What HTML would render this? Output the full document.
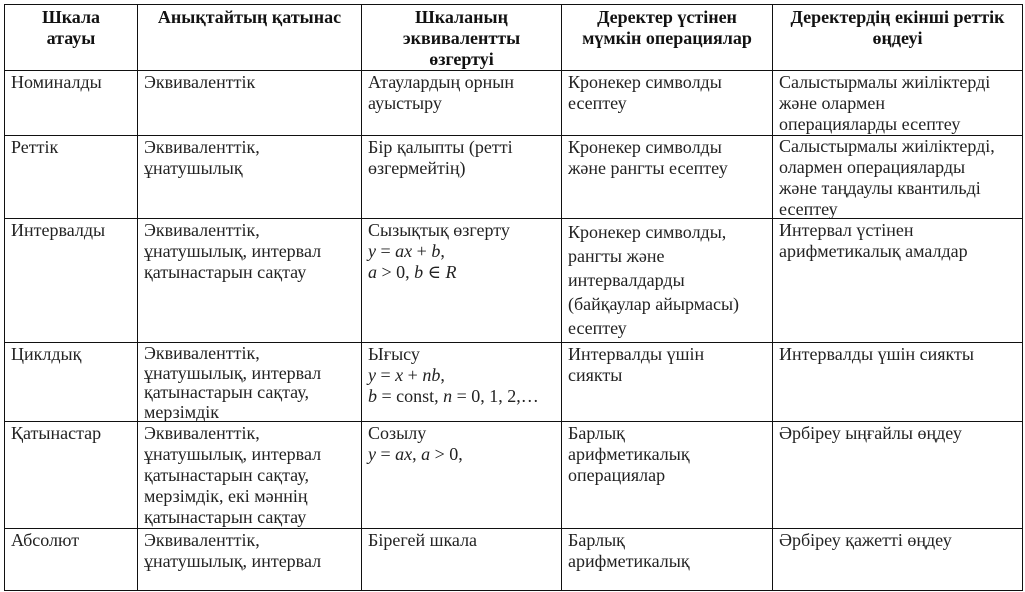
<!DOCTYPE html>
<html><head><meta charset="utf-8">
<style>
html,body{margin:0;padding:0;background:#fff;}
#w{position:relative;width:1025px;height:592px;overflow:hidden;font-family:"Liberation Serif","DejaVu Serif",serif;font-size:18px;line-height:21px;color:#222;}
.c{position:absolute;box-sizing:border-box;border:1px solid #111;padding:1px 6px 0;overflow:hidden;}
.h{font-weight:bold;text-align:center;color:#111;padding-top:2px;}
i{font-style:italic;}
</style></head><body><div id="w">
<div class="c h" style="left:4px;top:4px;width:134px;height:67px;">Шкала<br>атауы</div>
<div class="c h" style="left:137px;top:4px;width:225px;height:67px;">Анықтайтың қатынас</div>
<div class="c h" style="left:361px;top:4px;width:201px;height:67px;">Шкаланың<br>эквивалентты<br>өзгертуі</div>
<div class="c h" style="left:561px;top:4px;width:212px;height:67px;">Деректер үстінен<br>мүмкін операциялар</div>
<div class="c h" style="left:772px;top:4px;width:251px;height:67px;">Деректердің екінші реттік<br>өңдеуі</div>

<div class="c" style="left:4px;top:70px;width:134px;height:66px;">Номиналды</div>
<div class="c" style="left:137px;top:70px;width:225px;height:66px;">Эквиваленттік</div>
<div class="c" style="left:361px;top:70px;width:201px;height:66px;">Атаулардың орнын<br>ауыстыру</div>
<div class="c" style="left:561px;top:70px;width:212px;height:66px;">Кронекер символды<br>есептеу</div>
<div class="c" style="left:772px;top:70px;width:251px;height:66px;">Салыстырмалы жиіліктерді<br>және олармен<br>операцияларды есептеу</div>

<div class="c" style="left:4px;top:135px;width:134px;height:84px;">Реттік</div>
<div class="c" style="left:137px;top:135px;width:225px;height:84px;">Эквиваленттік,<br>ұнатушылық</div>
<div class="c" style="left:361px;top:135px;width:201px;height:84px;">Бір қалыпты (ретті<br>өзгермейтің)</div>
<div class="c" style="left:561px;top:135px;width:212px;height:84px;">Кронекер символды<br>және рангты есептеу</div>
<div class="c" style="left:772px;top:135px;width:251px;height:84px;padding-top:0;">Салыстырмалы жиіліктерді,<br>олармен операцияларды<br>және таңдаулы квантильді<br>есептеу</div>

<div class="c" style="left:4px;top:218px;width:134px;height:125px;">Интервалды</div>
<div class="c" style="left:137px;top:218px;width:225px;height:125px;">Эквиваленттік,<br>ұнатушылық, интервал<br>қатынастарын сақтау</div>
<div class="c" style="left:361px;top:218px;width:201px;height:125px;">Сызықтық өзгерту<br><i>y</i> = <i>ax</i> + <i>b</i>,<br><i>a</i> &gt; 0, <i>b</i> ∈ <i>R</i></div>
<div class="c" style="left:561px;top:218px;width:212px;height:125px;line-height:24px;">Кронекер символды,<br>рангты және<br>интервалдарды<br>(байқаулар айырмасы)<br>есептеу</div>
<div class="c" style="left:772px;top:218px;width:251px;height:125px;">Интервал үстінен<br>арифметикалық амалдар</div>

<div class="c" style="left:4px;top:342px;width:134px;height:80px;">Циклдық</div>
<div class="c" style="left:137px;top:342px;width:225px;height:80px;line-height:19.5px;">Эквиваленттік,<br>ұнатушылық, интервал<br>қатынастарын сақтау,<br>мерзімдік</div>
<div class="c" style="left:361px;top:342px;width:201px;height:80px;">Ығысу<br><i>y</i> = <i>x</i> + <i>nb</i>,<br><i>b</i> = const, <i>n</i> = 0, 1, 2,…</div>
<div class="c" style="left:561px;top:342px;width:212px;height:80px;">Интервалды үшін<br>сиякты</div>
<div class="c" style="left:772px;top:342px;width:251px;height:80px;">Интервалды үшін сиякты</div>

<div class="c" style="left:4px;top:421px;width:134px;height:108px;">Қатынастар</div>
<div class="c" style="left:137px;top:421px;width:225px;height:108px;">Эквиваленттік,<br>ұнатушылық, интервал<br>қатынастарын сақтау,<br>мерзімдік, екі мәннің<br>қатынастарын сақтау</div>
<div class="c" style="left:361px;top:421px;width:201px;height:108px;">Созылу<br><i>y</i> = <i>ax</i>, <i>a</i> &gt; 0,</div>
<div class="c" style="left:561px;top:421px;width:212px;height:108px;">Барлық<br>арифметикалық<br>операциялар</div>
<div class="c" style="left:772px;top:421px;width:251px;height:108px;">Әрбіреу ыңғайлы өңдеу</div>

<div class="c" style="left:4px;top:528px;width:134px;height:63px;">Абсолют</div>
<div class="c" style="left:137px;top:528px;width:225px;height:63px;">Эквиваленттік,<br>ұнатушылық, интервал</div>
<div class="c" style="left:361px;top:528px;width:201px;height:63px;">Бірегей шкала</div>
<div class="c" style="left:561px;top:528px;width:212px;height:63px;">Барлық<br>арифметикалық</div>
<div class="c" style="left:772px;top:528px;width:251px;height:63px;">Әрбіреу қажетті өңдеу</div>
</div></body></html>
